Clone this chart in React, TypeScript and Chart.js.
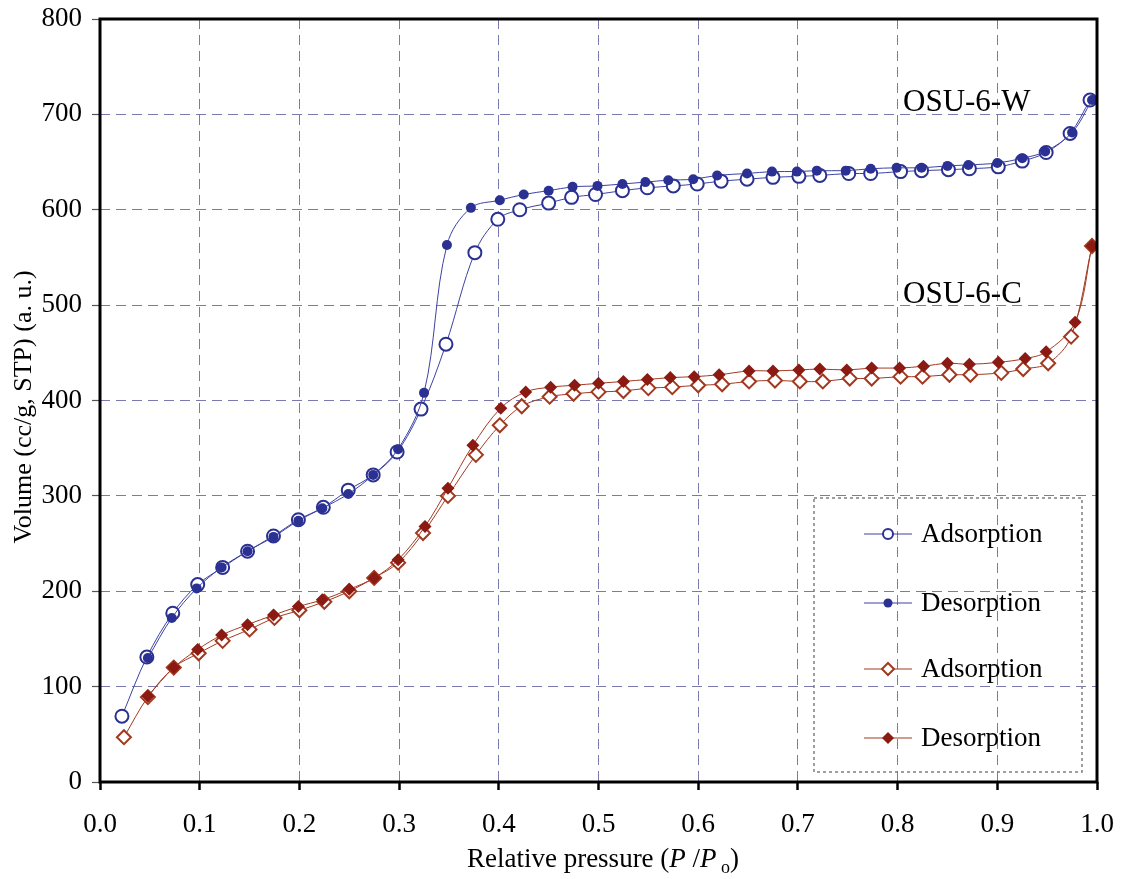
import React, { useEffect, useRef } from "react";
import { Chart, registerables } from "chart.js";

Chart.register(...registerables);

// ---- data ----
const wAdsP = [0.022, 0.047, 0.073, 0.098, 0.123, 0.148, 0.174, 0.199, 0.224, 0.249, 0.274, 0.298, 0.322, 0.347, 0.376, 0.399, 0.421, 0.45, 0.473, 0.497, 0.524, 0.549, 0.575, 0.599, 0.623, 0.649, 0.675, 0.701, 0.722, 0.751, 0.773, 0.803, 0.824, 0.851, 0.872, 0.901, 0.925, 0.949, 0.973, 0.993];
const wAdsV = [69, 131, 177, 207, 225, 242, 258, 275, 288, 306, 322, 346, 391, 459, 555, 590, 600, 607, 613, 616, 620, 623, 625, 627, 630, 632, 634, 635, 636, 638, 638, 640, 641, 642, 643, 645, 651, 660, 680, 715];

const wDesP = [0.048, 0.072, 0.097, 0.122, 0.148, 0.174, 0.199, 0.223, 0.249, 0.274, 0.299, 0.325, 0.348, 0.372, 0.401, 0.425, 0.45, 0.474, 0.499, 0.524, 0.547, 0.57, 0.595, 0.619, 0.649, 0.674, 0.699, 0.719, 0.748, 0.773, 0.799, 0.824, 0.85, 0.871, 0.9, 0.925, 0.948, 0.975, 0.995];
const wDesV = [130, 172, 203, 225, 242, 257, 274, 287, 302, 322, 349, 408, 563, 602, 610, 616, 620, 624, 625, 627, 629, 631, 632, 636, 638, 640, 640, 641, 641, 643, 644, 644, 646, 647, 649, 654, 661, 681, 715];

const cAdsP = [0.024, 0.048, 0.074, 0.099, 0.123, 0.15, 0.175, 0.2, 0.225, 0.25, 0.275, 0.299, 0.324, 0.349, 0.377, 0.401, 0.423, 0.451, 0.475, 0.5, 0.525, 0.55, 0.574, 0.6, 0.624, 0.651, 0.677, 0.702, 0.725, 0.752, 0.774, 0.803, 0.825, 0.852, 0.873, 0.904, 0.926, 0.951, 0.974, 0.995];
const cAdsV = [47, 89, 120, 135, 148, 160, 172, 180, 189, 200, 214, 230, 261, 300, 343, 374, 394, 404, 407, 409, 410, 413, 414, 416, 417, 420, 421, 420, 420, 423, 423, 425, 425, 427, 427, 429, 433, 439, 467, 562];

const cDesP = [0.048, 0.074, 0.098, 0.122, 0.148, 0.174, 0.199, 0.223, 0.25, 0.275, 0.299, 0.326, 0.349, 0.374, 0.402, 0.427, 0.452, 0.476, 0.5, 0.525, 0.549, 0.572, 0.596, 0.621, 0.651, 0.675, 0.701, 0.722, 0.749, 0.774, 0.802, 0.826, 0.85, 0.872, 0.901, 0.928, 0.949, 0.978, 0.995];
const cDesV = [90, 120, 139, 154, 165, 175, 184, 191, 202, 214, 233, 268, 308, 353, 392, 409, 414, 416, 418, 420, 422, 424, 425, 427, 431, 431, 432, 433, 432, 434, 434, 436, 439, 438, 440, 444, 451, 482, 562];

const seriesNames = ["Adsorption", "Desorption", "Adsorption", "Desorption"];
const sampleNames = ["OSU-6-W", "OSU-6-C"];
const yTitle = "Volume (cc/g, STP) (a. u.)";

const BLUE = "#2B3192";
const BLUE_LINE = "#3C42A2";
const RED_OPEN = "#A2381E";
const RED_FILL = "#8A1A12";
const RED_LINE = "#A13A22";
const GRID = "#7A7AAE";
const SERIF = "'Liberation Serif', 'Times New Roman', serif";

const toPts = (xs: number[], ys: number[]) => xs.map((x, i) => ({ x, y: ys[i] }));

const zeroPad = (s: any) => {
  s.paddingLeft = 0;
  s.paddingRight = 0;
  s.paddingTop = 0;
  s.paddingBottom = 0;
};

const decorPlugin = {
  id: "decor",
  afterDraw(chart: any) {
    const { ctx, chartArea } = chart;
    const { left, right, top, bottom } = chartArea;
    ctx.save();
    // frame
    ctx.setLineDash([]);
    ctx.strokeStyle = "#000";
    ctx.lineWidth = 3;
    ctx.strokeRect(left, top, right - left, bottom - top);

    // sample labels
    ctx.fillStyle = "#000";
    ctx.font = `31px ${SERIF}`;
    ctx.textBaseline = "alphabetic";
    ctx.textAlign = "left";
    ctx.fillText(sampleNames[0], 903, 111);
    ctx.fillText(sampleNames[1], 903, 303);

    // legend box
    ctx.strokeStyle = "#7F7F7F";
    ctx.lineWidth = 1.5;
    ctx.setLineDash([3, 3]);
    ctx.strokeRect(814, 498, 268, 274);
    ctx.setLineDash([]);
    const ys = [534, 603, 669, 738];
    const lineCols = [BLUE_LINE, BLUE_LINE, RED_LINE, RED_LINE];
    ys.forEach((y, i) => {
      ctx.strokeStyle = lineCols[i];
      ctx.lineWidth = 1.2;
      ctx.beginPath();
      ctx.moveTo(864, y);
      ctx.lineTo(912, y);
      ctx.stroke();
      const cx = 888;
      ctx.lineWidth = 2;
      if (i === 0) {
        ctx.fillStyle = "#fff";
        ctx.strokeStyle = BLUE;
        ctx.beginPath();
        ctx.arc(cx, y, 5, 0, Math.PI * 2);
        ctx.fill();
        ctx.stroke();
      } else if (i === 1) {
        ctx.fillStyle = BLUE;
        ctx.beginPath();
        ctx.arc(cx, y, 4.5, 0, Math.PI * 2);
        ctx.fill();
      } else {
        const r = 6;
        ctx.beginPath();
        ctx.moveTo(cx, y - r);
        ctx.lineTo(cx + r, y);
        ctx.lineTo(cx, y + r);
        ctx.lineTo(cx - r, y);
        ctx.closePath();
        if (i === 2) {
          ctx.fillStyle = "#fff";
          ctx.strokeStyle = RED_OPEN;
          ctx.fill();
          ctx.stroke();
        } else {
          ctx.fillStyle = RED_FILL;
          ctx.fill();
        }
      }
      ctx.fillStyle = "#000";
      ctx.font = `27px ${SERIF}`;
      ctx.textBaseline = "middle";
      ctx.fillText(seriesNames[i], 921, y + 1);
    });

    // y title
    ctx.save();
    ctx.translate(31, 407);
    ctx.rotate(-Math.PI / 2);
    ctx.font = `26px ${SERIF}`;
    ctx.textAlign = "center";
    ctx.textBaseline = "alphabetic";
    ctx.fillStyle = "#000";
    ctx.fillText(yTitle, 0, 0);
    ctx.restore();

    // x title with italic P / P_o
    const parts: { t: string; f: string; dy: number }[] = [
      { t: "Relative pressure (", f: `27px ${SERIF}`, dy: 0 },
      { t: "P", f: `italic 27px ${SERIF}`, dy: 0 },
      { t: " /", f: `27px ${SERIF}`, dy: 0 },
      { t: "P", f: `italic 27px ${SERIF}`, dy: 0 },
      { t: " o", f: `18px ${SERIF}`, dy: 6 },
      { t: ")", f: `27px ${SERIF}`, dy: 0 },
    ];
    let total = 0;
    parts.forEach((p) => {
      ctx.font = p.f;
      total += ctx.measureText(p.t).width;
    });
    let x = 603 - total / 2;
    ctx.textAlign = "left";
    ctx.textBaseline = "alphabetic";
    ctx.fillStyle = "#000";
    parts.forEach((p) => {
      ctx.font = p.f;
      ctx.fillText(p.t, x, 867 + p.dy);
      x += ctx.measureText(p.t).width;
    });
    ctx.restore();
  },
};

export default function App() {
  const ref = useRef<HTMLCanvasElement>(null);
  useEffect(() => {
    if (!ref.current) return;
    const common = { showLine: true, borderWidth: 1, tension: 0.35, fill: false };
    const chart = new Chart(ref.current, {
      type: "line",
      data: {
        datasets: [
          {
            ...common,
            label: seriesNames[0],
            order: 1,
            data: toPts(wAdsP, wAdsV),
            borderColor: BLUE_LINE,
            pointStyle: "circle",
            pointRadius: 6.5,
            pointBorderWidth: 2,
            pointBackgroundColor: "#fff",
            pointBorderColor: BLUE,
          },
          {
            ...common,
            label: seriesNames[1],
            order: 0,
            data: toPts(wDesP, wDesV),
            borderColor: BLUE_LINE,
            pointStyle: "circle",
            pointRadius: 5,
            pointBorderWidth: 0,
            pointBackgroundColor: BLUE,
            pointBorderColor: BLUE,
          },
          {
            ...common,
            label: seriesNames[2],
            order: 3,
            data: toPts(cAdsP, cAdsV),
            borderColor: RED_LINE,
            pointStyle: "rectRot",
            pointRadius: 7,
            pointBorderWidth: 2,
            pointBackgroundColor: "#fff",
            pointBorderColor: RED_OPEN,
          },
          {
            ...common,
            label: seriesNames[3],
            order: 2,
            data: toPts(cDesP, cDesV),
            borderColor: RED_LINE,
            pointStyle: "rectRot",
            pointRadius: 6.5,
            pointBorderWidth: 0,
            pointBackgroundColor: RED_FILL,
            pointBorderColor: RED_FILL,
          },
        ],
      },
      options: {
        responsive: false,
        animation: false,
        layout: { padding: { top: 19, right: 32, left: 0, bottom: 0 } },
        plugins: { legend: { display: false }, tooltip: { enabled: false } },
        scales: {
          x: {
            type: "linear",
            min: 0,
            max: 1,
            afterFit: (s: any) => { s.height = 97; zeroPad(s); },
            ticks: {
              stepSize: 0.1,
              color: "#000",
              padding: 19,
              font: { family: SERIF, size: 27 },
              callback: (v: any) => Number(v).toFixed(1),
            },
            grid: { color: GRID, lineWidth: 1, tickColor: "#000", tickLength: 8, tickBorderDash: [], tickWidth: 2.5 },
            border: { display: false, dash: [10, 6] },
          },
          y: {
            type: "linear",
            min: 0,
            max: 800,
            afterFit: (s: any) => { s.width = 100; zeroPad(s); },
            ticks: {
              stepSize: 100,
              color: "#000",
              padding: 10,
              font: { family: SERIF, size: 27 },
            },
            grid: { color: GRID, lineWidth: 1, tickColor: "#555", tickLength: 8, tickBorderDash: [], tickWidth: 1.2 },
            border: { display: false, dash: [10, 6] },
          },
        },
      },
      plugins: [decorPlugin],
    } as any);
    return () => chart.destroy();
  }, []);
  return (
    <div style={{ position: "fixed", left: 0, top: 0, width: 1129, height: 879, background: "#fff" }}>
      <canvas ref={ref} width={1129} height={879} />
    </div>
  );
}
